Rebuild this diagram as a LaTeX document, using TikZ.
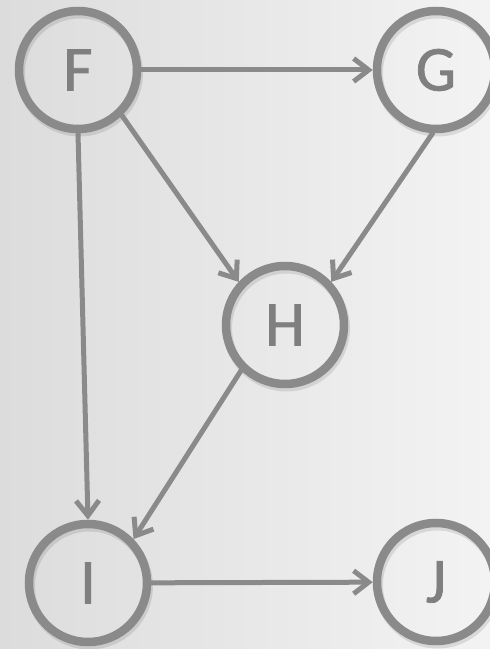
\documentclass[tikz,border=0pt]{standalone}
\usepackage{fontspec}
\setmainfont{Carlito}
\newfontfamily\labfont[FakeBold=1.2]{Carlito}
\usetikzlibrary{arrows.meta}
\definecolor{stroke}{HTML}{8A8A8A}
\definecolor{txt}{HTML}{7F7F7F}
\definecolor{bgl}{HTML}{DCDCDC}
\definecolor{bgr}{HTML}{F3F3F3}
\tikzset{
  vertex/.style={circle, draw=stroke, line width=8.5pt, minimum size=118pt, inner sep=0pt,
    text=txt, font=\labfont\fontsize{64}{64}\selectfont},
  ringshadow/.style={circle, draw=black, draw opacity=0.10, line width=9pt, minimum size=118pt, inner sep=0pt},
  edge/.style={draw=stroke, line width=5pt, line cap=round, -{Straight Barb[length=15pt,width=23pt]}},
}
\begin{document}
\begin{tikzpicture}[x=1pt,y=1pt]
  \shade[left color=bgl, right color=bgr] (0,0) rectangle (490,649);
  \useasboundingbox (0,0) rectangle (490,649);
  \foreach \p in {(79.5,576),(437.5,576),(286.5,321),(89.5,63),(437.5,64)}
    \node[ringshadow] at \p {};
  \node[vertex] (F) at (78,579) {F};
  \node[vertex] (G) at (436,579) {G};
  \node[vertex] (H) at (285,324) {H};
  \node[vertex] (I) at (88,66) {I};
  \node[vertex] (J) at (436,67) {J};
  \draw[edge] (F) -- (G);
  \draw[edge] (F.-46) -- (H.137);
  \draw[edge] (G.-93) -- (H.43);
  \draw[edge] (F.-90) -- (I.90);
  \draw[edge] (H.-134) -- (I.44);
  \draw[edge] (I) -- (J);
\end{tikzpicture}
\end{document}
